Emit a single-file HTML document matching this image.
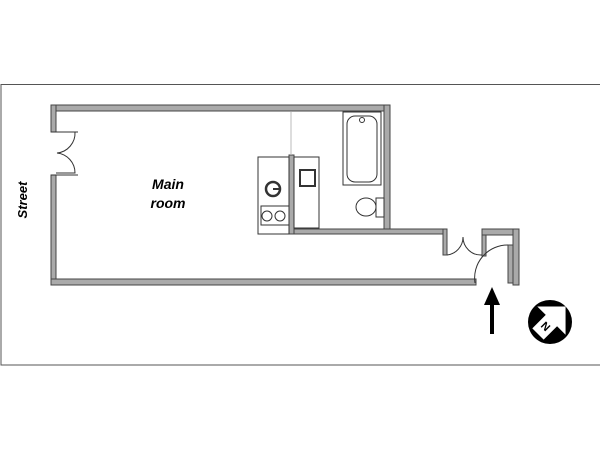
<!DOCTYPE html>
<html><head><style>body{margin:0;background:#fff}svg{display:block}</style></head><body>
<svg width="600" height="450" viewBox="0 0 600 450" xmlns="http://www.w3.org/2000/svg">
<rect x="1" y="84.5" width="605" height="280.5" fill="none" stroke="#555" stroke-width="1"/>
<g fill="#aaa" stroke="#444" stroke-width="1">
<rect x="51" y="105" width="339" height="6"/>
<rect x="51" y="105" width="5" height="27"/>
<rect x="51" y="175" width="5" height="110"/>
<rect x="51" y="279" width="425" height="6"/>
<rect x="384" y="105" width="6" height="129"/>
<rect x="289" y="229" width="158" height="5"/>
<rect x="289" y="155" width="5" height="79"/>
<rect x="443" y="229" width="4" height="26"/>
<rect x="482" y="229" width="4" height="27"/>
<rect x="482" y="229" width="37" height="6"/>
<rect x="513" y="229" width="6" height="56"/>
<rect x="508" y="245" width="5" height="38"/>
</g>
<g fill="none" stroke="#333" stroke-width="1">
<line x1="51" y1="132" x2="78" y2="132"/><line x1="51" y1="175" x2="78" y2="175"/>
<path d="M56 132 H75 A20 20 0 0 1 57 153 A20 20 0 0 1 75 173 H56"/>
<line x1="291" y1="112" x2="291" y2="155" stroke="#bbb"/>
<rect x="258" y="157" width="31" height="77"/>
<rect x="261" y="206" width="28" height="19"/>
<rect x="294" y="157" width="25" height="71"/>
<rect x="300" y="170" width="15" height="16" stroke-width="2"/>
<circle cx="273" cy="189" r="7" stroke-width="2.5"/>
<line x1="273" y1="189" x2="280" y2="189" stroke-width="2"/>
<circle cx="267" cy="216" r="5"/><circle cx="280" cy="216" r="5"/>
<rect x="343" y="112" width="38" height="73"/>
<rect x="347" y="116" width="30" height="66" rx="8"/>
<circle cx="362" cy="120" r="2.5"/>
<rect x="376" y="198" width="8" height="19"/>
<ellipse cx="366" cy="207" rx="10" ry="9"/>
<path d="M447 255 A18 18 0 0 0 463 237 A18 18 0 0 0 482 255"/>
<path d="M475 283 A33 33 0 0 1 508 245"/>
</g>
<line x1="492" y1="300" x2="492" y2="334" stroke="#000" stroke-width="4"/>
<polygon points="484,305 492,287 500,305" fill="#000"/>
<circle cx="550" cy="322" r="22" fill="#000"/>
<g transform="rotate(-45 550 322)">
<polygon points="533,314 552,314 552,302 572,322 552,342 552,330 533,330" fill="#fff"/>
<text x="544" y="326" transform="rotate(90 544 322)" font-family="Liberation Sans,sans-serif" font-size="11" font-weight="bold" text-anchor="middle">N</text>
</g>
<text x="168" y="189" font-family="Liberation Sans,sans-serif" font-size="14" font-weight="bold" font-style="italic" text-anchor="middle">Main</text>
<text x="168" y="208" font-family="Liberation Sans,sans-serif" font-size="14" font-weight="bold" font-style="italic" text-anchor="middle">room</text>
<text x="27" y="200" transform="rotate(-90 27 200)" font-family="Liberation Sans,sans-serif" font-size="13" font-weight="bold" font-style="italic" text-anchor="middle">Street</text>
</svg>
</body></html>
